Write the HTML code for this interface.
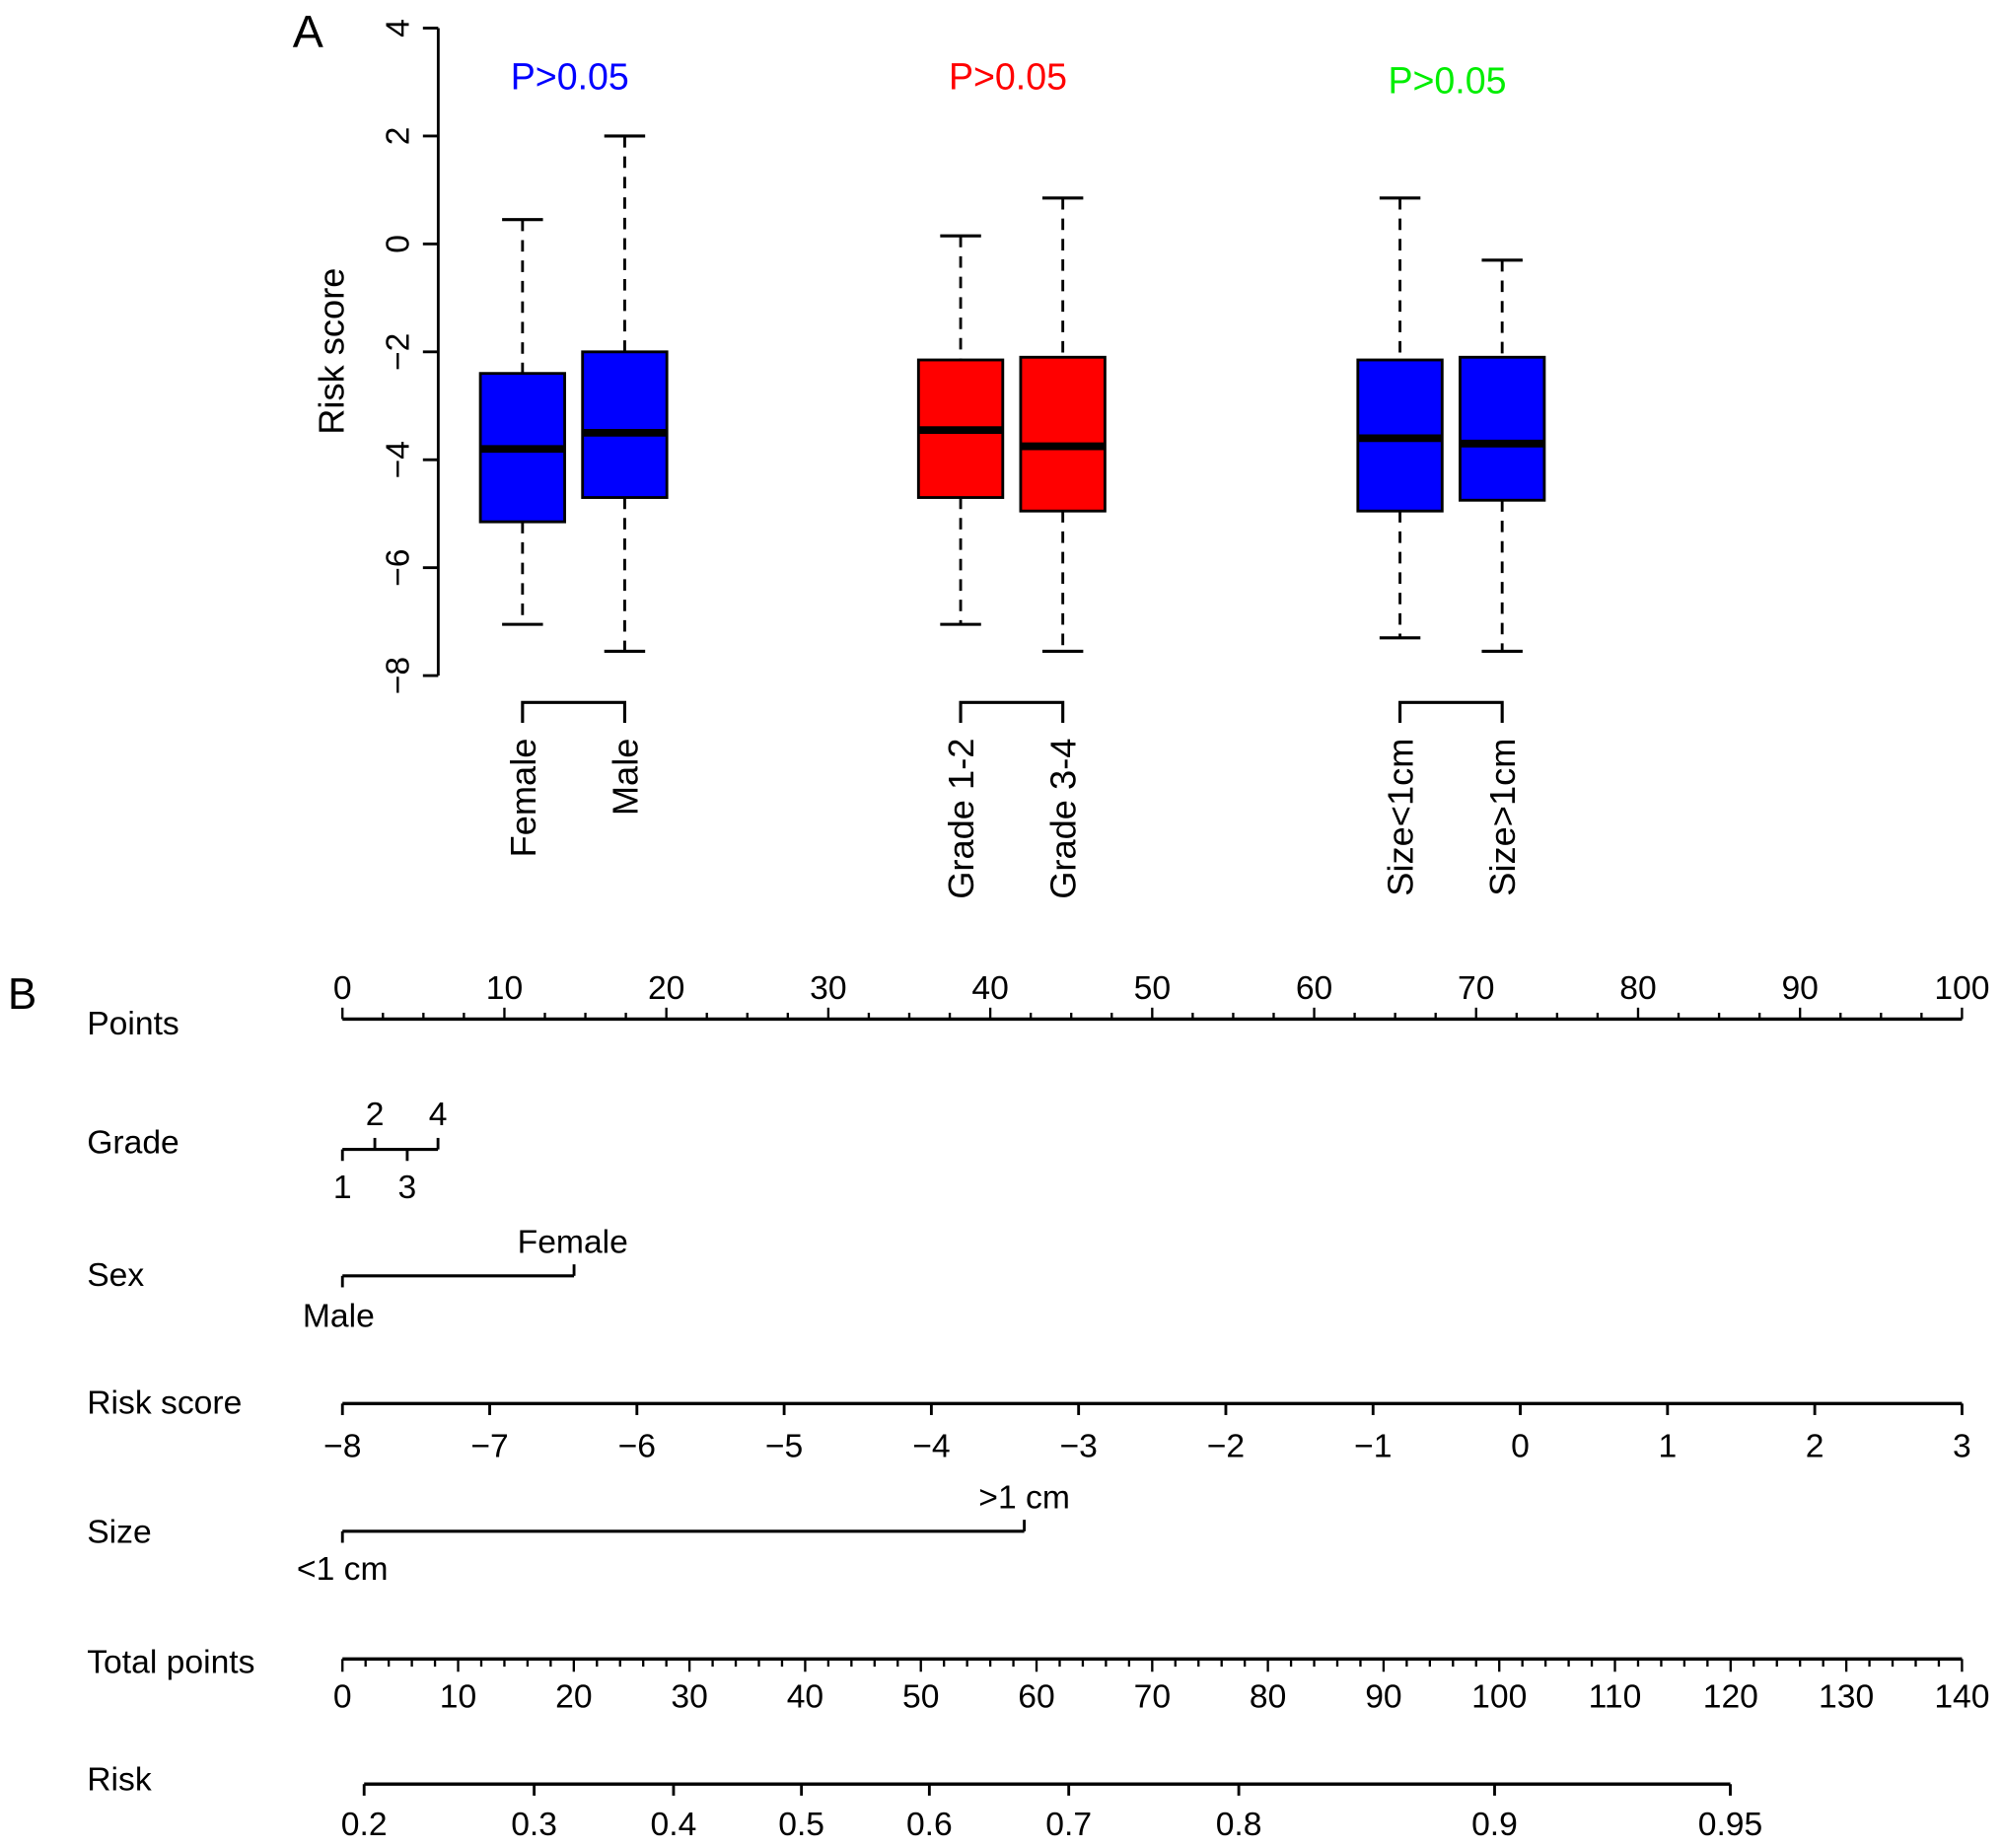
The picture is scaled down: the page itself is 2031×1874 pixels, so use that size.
<!DOCTYPE html>
<html><head><meta charset="utf-8"><style>
html,body{margin:0;padding:0;background:#fff}
svg{display:block}
text{font-family:"Liberation Sans",Arial,sans-serif;fill:#000}
</style></head><body>
<svg id="fig" width="2031" height="1874" viewBox="0 0 1568 1447" xmlns="http://www.w3.org/2000/svg">
<g id="pa"></g>
<g id="pb"></g>
</svg>
<script>
// ---- Panel A data ----
const groups = ["Female","Male","Grade 1-2","Grade 3-4","Size<1cm","Size>1cm"];
const boxMax = [0.45, 2.0, 0.15, 0.85, 0.85, -0.3];
const boxQ3 = [-2.4, -2.0, -2.15, -2.1, -2.15, -2.1];
const boxMed = [-3.8, -3.5, -3.45, -3.75, -3.6, -3.7];
const boxQ1 = [-5.15, -4.7, -4.7, -4.95, -4.95, -4.75];
const boxMin = [-7.05, -7.55, -7.05, -7.55, -7.3, -7.55];
const boxColors = ["#0000ff","#0000ff","#ff0000","#ff0000","#0000ff","#0000ff"];
const yTicks = [4,2,0,-2,-4,-6,-8];
const pLabels = ["P>0.05","P>0.05","P>0.05"];
const pColors = ["#0000ff","#ff0000","#00ee00"];

// ---- Panel B data ----
const pointsTicks = [0,10,20,30,40,50,60,70,80,90,100];
const gradeLevels = [1,2,3,4];
const gradePoints = [0,2,4,5.9];
const sexLevels = ["Male","Female"];
const sexPoints = [0,14.3];
const riskScoreTicks = [-8,-7,-6,-5,-4,-3,-2,-1,0,1,2,3];
const sizeLevels = ["<1 cm",">1 cm"];
const sizePoints = [0,42.1];
const totalTicks = [0,10,20,30,40,50,60,70,80,90,100,110,120,130,140];
const riskTicks = [0.2,0.3,0.4,0.5,0.6,0.7,0.8,0.9,0.95];
const riskIntercept = -1.455, riskSlope = 0.03667;

const NS="http://www.w3.org/2000/svg";
function mk(parent, tag, attrs, txt){
  const e=document.createElementNS(NS,tag);
  for(const k in attrs) e.setAttribute(k,attrs[k]);
  if(txt!==undefined) e.textContent=txt;
  parent.appendChild(e); return e;
}
const pa=document.getElementById('pa');
const pb=document.getElementById('pb');
const fmt = v => (v<0?'\u2212':'')+Math.abs(v);

// Panel A scales
const yA = v => 22 + (4 - v) * 42.25;
const centers = [409,489,752,832,1096,1176];
const xA = i => centers[i];
let t;
t=mk(pa,'text',{x:229,y:37,'font-size':36},'A');


let ax=mk(pa,'line',{x1:343,y1:yA(4),x2:343,y2:yA(-8),stroke:'#000','stroke-width':2.2});


yTicks.forEach(v=>{
  let l=mk(pa,'line',{x1:331,y1:yA(v),x2:343,y2:yA(v),stroke:'#000','stroke-width':2.2});
  
  
  let tx=mk(pa,'text',{x:0,y:0,'font-size':26,'text-anchor':'middle',transform:`translate(320,${yA(v)}) rotate(-90)`},fmt(v));
  
  
});
t=mk(pa,'text',{x:0,y:0,'font-size':28,'text-anchor':'middle',transform:'translate(269,275) rotate(-90)'},'Risk score');



groups.forEach((g,i)=>{
  const cx=xA(i), hw=33;
  let w1=mk(pa,'line',{x1:cx,y1:yA(boxMax[i]),x2:cx,y2:yA(boxQ3[i]),stroke:'#000','stroke-width':2.2,'stroke-dasharray':'9,7'});
  
  
  let w2=mk(pa,'line',{x1:cx,y1:yA(boxQ1[i]),x2:cx,y2:yA(boxMin[i]),stroke:'#000','stroke-width':2.2,'stroke-dasharray':'9,7'});
  
  
  let c1=mk(pa,'line',{x1:cx-16,y1:yA(boxMax[i]),x2:cx+16,y2:yA(boxMax[i]),stroke:'#000','stroke-width':2.4});
  
  
  let c2=mk(pa,'line',{x1:cx-16,y1:yA(boxMin[i]),x2:cx+16,y2:yA(boxMin[i]),stroke:'#000','stroke-width':2.4});
  
  
  let r=mk(pa,'rect',{x:cx-hw,y:yA(boxQ3[i]),width:hw*2,height:yA(boxQ1[i])-yA(boxQ3[i]),fill:boxColors[i],stroke:'#000','stroke-width':2.2});
  
  
  let m=mk(pa,'line',{x1:cx-hw,y1:yA(boxMed[i]),x2:cx+hw,y2:yA(boxMed[i]),stroke:'#000','stroke-width':6});
  
  
  let lb=mk(pa,'text',{x:0,y:0,'font-size':28,'text-anchor':'end',transform:`translate(${cx+10},578) rotate(-90)`},g);
  
  
});
for(let k=0;k<3;k++){
  const a=xA(2*k), b=xA(2*k+1);
  let br=mk(pa,'path',{d:`M${a},566 V550 H${b} V566`,fill:'none',stroke:'#000','stroke-width':2.4});
  
  
  let p=mk(pa,'text',{x:(a+b)/2-3,y:k==2?73:70,'font-size':29,'text-anchor':'middle',style:'fill:'+pColors[k]},pLabels[k]);
  
  
}

// Panel B
const X0=268, X1=1536;
const xP = p => X0 + (p/100)*(X1-X0);
const xT = p => X0 + (p/140)*(X1-X0);
const xR = v => X0 + ((v+8)/11)*(X1-X0);
const logit = r => Math.log(r/(1-r));
const xRisk = r => xT((logit(r)-riskIntercept)/riskSlope);
const FS=26;
function line(x1,y1,x2,y2,name,w){
  let l=mk(pb,'line',{x1,y1,x2,y2,stroke:'#000','stroke-width':w||2.2});
  
  
  return l;
}
function txt(x,y,s,name,anchor,size){
  let e=mk(pb,'text',{x,y,'font-size':size||FS,'text-anchor':anchor||'middle'},s);
  
  
  return e;
}
t=mk(pb,'text',{x:6,y:790,'font-size':34},'B');


const rowNames=[["Points",810],["Grade",903],["Sex",1007],["Risk score",1107],["Size",1208],["Total points",1310],["Risk",1402]];
rowNames.forEach(([n,y])=>txt(68,y,n,'row-label','start'));

// Points
line(X0,798,X1,798,'points-axis',2.6);
for(let p=0;p<=100;p+=2.5){
  const major=p%10===0;
  line(xP(p),798,xP(p),major?789:793,'points-tick',1.8);
}
pointsTicks.forEach(p=>txt(xP(p),782,String(p),'points-tick-label'));

// Grade
line(xP(gradePoints[0]),900,xP(gradePoints[3]),900,'grade-axis',2.4);
gradeLevels.forEach((g,i)=>{
  const up=(i%2===1), x=xP(gradePoints[i]);
  line(x,900,x,up?891:909,'grade-tick',2.2);
  txt(x,up?881:938,String(g),'grade-level-label');
});
// Sex
line(xP(sexPoints[0]),999,xP(sexPoints[1]),999,'sex-axis',2.4);
sexLevels.forEach((s,i)=>{
  const x=xP(sexPoints[i]), up=i===1;
  line(x,999,x,up?990:1008,'sex-tick',2.2);
  txt(x-(up?1:3),up?981:1039,s,'sex-level-label');
});
// Risk score
line(X0,1099,X1,1099,'risk-score-axis',2.6);
riskScoreTicks.forEach(v=>{
  line(xR(v),1099,xR(v),1108,'risk-score-tick',2.2);
  txt(xR(v),1141,fmt(v),'risk-score-tick-label');
});
// Size
line(xP(sizePoints[0]),1199,xP(sizePoints[1]),1199,'size-axis',2.4);
sizeLevels.forEach((s,i)=>{
  const x=xP(sizePoints[i]), up=i===1;
  line(x,1199,x,up?1190:1208,'size-tick',2.2);
  txt(x,up?1181:1237,s,'size-level-label');
});
// Total points
line(X0,1299,X1,1299,'total-points-axis',2.6);
for(let p=0;p<=140;p+=2){
  const major=p%10===0;
  line(xT(p),1299,xT(p),major?1309:1305,'total-points-tick',1.8);
}
totalTicks.forEach(p=>txt(xT(p),1337,String(p),'total-points-tick-label'));
// Risk
line(xRisk(riskTicks[0]),1397,xRisk(riskTicks[riskTicks.length-1]),1397,'risk-axis',2.6);
riskTicks.forEach(r=>{
  line(xRisk(r),1397,xRisk(r),1406,'risk-tick',2.2);
  txt(xRisk(r),1437,String(r),'risk-tick-label');
});
</script>
</body></html>
